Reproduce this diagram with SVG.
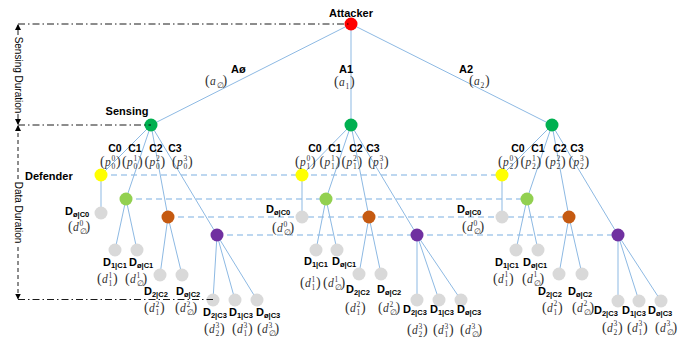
<svg xmlns="http://www.w3.org/2000/svg" width="699" height="344" viewBox="0 0 699 344">
<style>
.e{stroke:#8DB9E3;stroke-width:1;fill:none}
.h{stroke:#A8CAEB;stroke-width:1.6;stroke-dasharray:6 4;fill:none}
.dd{stroke:#000;stroke-width:0.9;stroke-dasharray:7 3 1.5 3;fill:none}
.ar{stroke:#000;stroke-width:0.9;fill:none}
.ard{stroke:#000;stroke-width:0.9;fill:none;stroke-dasharray:4 3}
.b{font-family:"Liberation Sans",Arial,sans-serif;font-weight:bold;font-size:11px;fill:#000}
.c{font-family:"Liberation Sans",Arial,sans-serif;font-weight:bold;font-size:10.5px;fill:#000;text-anchor:middle}
.sb{font-size:7.5px}
.r{font-family:"Liberation Sans",Arial,sans-serif;font-size:10px;fill:#000;text-anchor:middle}
.m{font-family:"Liberation Serif","Times New Roman",serif;font-size:11.5px;fill:#333}
.mp{font-size:14px}
.mi{font-style:italic}
.ms{font-size:7.5px}
.red{fill:#FF0000}.grn{fill:#00B050}.yel{fill:#FFFF00}.lg{fill:#92D050}.org{fill:#C55A11}.pur{fill:#7030A0}.gry{fill:#D9D9D9}
</style>
<defs>
<marker id="arr" viewBox="0 0 6 6" refX="5" refY="3" markerWidth="6" markerHeight="6" orient="auto" markerUnits="userSpaceOnUse"><path d="M0,0 L6,3 L0,6 z" fill="#000"/></marker>
</defs>
<rect width="699" height="344" fill="#fff"/>

<g id="connectors">
<line class="e" x1="351" y1="24" x2="151" y2="125"/>
<line class="e" x1="351" y1="24" x2="351" y2="125"/>
<line class="e" x1="351" y1="24" x2="552" y2="125"/>
<line class="h" x1="101" y1="175" x2="502" y2="175"/>
<line class="h" x1="126" y1="199" x2="527" y2="199"/>
<line class="h" x1="168" y1="217" x2="569" y2="217"/>
<line class="h" x1="217" y1="235" x2="618" y2="235"/>
<line class="e" x1="151" y1="125" x2="101" y2="175"/>
<line class="e" x1="151" y1="125" x2="126" y2="199"/>
<line class="e" x1="151" y1="125" x2="168" y2="217"/>
<line class="e" x1="151" y1="125" x2="217" y2="235"/>
<line class="e" x1="101" y1="175" x2="101" y2="213"/>
<line class="e" x1="126" y1="199" x2="115" y2="250"/>
<line class="e" x1="126" y1="199" x2="137" y2="250"/>
<line class="e" x1="168" y1="217" x2="160" y2="275"/>
<line class="e" x1="168" y1="217" x2="182" y2="275"/>
<line class="e" x1="217" y1="235" x2="213" y2="300"/>
<line class="e" x1="217" y1="235" x2="235" y2="300"/>
<line class="e" x1="217" y1="235" x2="257" y2="300"/>
<line class="e" x1="351" y1="125" x2="302" y2="175"/>
<line class="e" x1="351" y1="125" x2="326" y2="199"/>
<line class="e" x1="351" y1="125" x2="369" y2="217"/>
<line class="e" x1="351" y1="125" x2="417" y2="235"/>
<line class="e" x1="302" y1="175" x2="302" y2="217"/>
<line class="e" x1="326" y1="199" x2="316" y2="250"/>
<line class="e" x1="326" y1="199" x2="337" y2="250"/>
<line class="e" x1="369" y1="217" x2="359" y2="274"/>
<line class="e" x1="369" y1="217" x2="381" y2="274"/>
<line class="e" x1="417" y1="235" x2="417" y2="300"/>
<line class="e" x1="417" y1="235" x2="439" y2="300"/>
<line class="e" x1="417" y1="235" x2="461" y2="300"/>
<line class="e" x1="552" y1="125" x2="502" y2="175"/>
<line class="e" x1="552" y1="125" x2="527" y2="199"/>
<line class="e" x1="552" y1="125" x2="569" y2="217"/>
<line class="e" x1="552" y1="125" x2="618" y2="235"/>
<line class="e" x1="502" y1="175" x2="502" y2="217"/>
<line class="e" x1="527" y1="199" x2="516" y2="250"/>
<line class="e" x1="527" y1="199" x2="538" y2="250"/>
<line class="e" x1="569" y1="217" x2="559" y2="274"/>
<line class="e" x1="569" y1="217" x2="582" y2="274"/>
<line class="e" x1="618" y1="235" x2="618" y2="301"/>
<line class="e" x1="618" y1="235" x2="639" y2="301"/>
<line class="e" x1="618" y1="235" x2="661" y2="301"/>
</g>

<g id="attacker">
<circle class="red" cx="351" cy="24" r="6.5"/>
<text class="b" x="351" y="17" text-anchor="middle">Attacker</text>
<text class="b" x="231" y="72.5">Aø</text>
<text class="m"><tspan class="mp" x="205" y="85">(</tspan><tspan class="mi" x="210" y="85">a</tspan><tspan class="ms" x="216.5" y="88">∅</tspan><tspan class="mp" x="222.5" y="85">)</tspan></text>
<text class="b" x="346" y="72.5" text-anchor="middle">A1</text>
<text class="m"><tspan class="mp" x="334" y="86">(</tspan><tspan class="mi" x="339" y="86">a</tspan><tspan class="ms" x="345.5" y="89">1</tspan><tspan class="mp" x="350" y="86">)</tspan></text>
<text class="b" x="466" y="72.5" text-anchor="middle">A2</text>
<text class="m"><tspan class="mp" x="469" y="85">(</tspan><tspan class="mi" x="474" y="85">a</tspan><tspan class="ms" x="480.5" y="88">2</tspan><tspan class="mp" x="485" y="85">)</tspan></text>
</g>

<g id="sensing-0">
<circle class="grn" cx="151" cy="125" r="6.5"/>
<text class="b" x="127" y="115" text-anchor="middle">Sensing</text>
</g>
<g id="sensing-1"><circle class="grn" cx="351" cy="125" r="6.5"/></g>
<g id="sensing-2"><circle class="grn" cx="552" cy="125" r="6.5"/></g>

<text class="b" x="25" y="180">Defender</text>

<!-- Tree 0 C nodes -->
<g id="t0-c0"><circle class="yel" cx="101" cy="175" r="6.5"/><text class="c" x="115" y="152">C0</text>
<text class="m"><tspan class="mp" x="100" y="166">(</tspan><tspan class="mi" x="105" y="166">p</tspan><tspan class="ms" x="111.5" y="160.5">0</tspan><tspan class="ms" x="111.5" y="169">0</tspan><tspan class="mp" x="116" y="166">)</tspan></text></g>
<g id="t0-c1"><circle class="lg" cx="126" cy="199" r="6.5"/><text class="c" x="135" y="152">C1</text>
<text class="m"><tspan class="mp" x="122" y="166">(</tspan><tspan class="mi" x="127" y="166">p</tspan><tspan class="ms" x="133.5" y="160.5">1</tspan><tspan class="ms" x="133.5" y="169">0</tspan><tspan class="mp" x="138" y="166">)</tspan></text></g>
<g id="t0-c2"><circle class="org" cx="168" cy="217" r="6.5"/><text class="c" x="156" y="152">C2</text>
<text class="m"><tspan class="mp" x="144.5" y="166">(</tspan><tspan class="mi" x="149.5" y="166">p</tspan><tspan class="ms" x="156" y="160.5">2</tspan><tspan class="ms" x="156" y="169">0</tspan><tspan class="mp" x="160.5" y="166">)</tspan></text></g>
<g id="t0-c3"><circle class="pur" cx="217" cy="235" r="6.5"/><text class="c" x="175" y="152">C3</text>
<text class="m"><tspan class="mp" x="172" y="166">(</tspan><tspan class="mi" x="177" y="166">p</tspan><tspan class="ms" x="183.5" y="160.5">3</tspan><tspan class="ms" x="183.5" y="169">0</tspan><tspan class="mp" x="188" y="166">)</tspan></text></g>

<!-- Tree 0 leaves -->
<g id="t0-d-n-c0"><circle class="gry" cx="101" cy="213" r="6.5"/><text class="b" x="65" y="215">D<tspan class="sb" dy="2">ø|C0</tspan></text>
<text class="m"><tspan class="mp" x="68" y="231">(</tspan><tspan class="mi" x="73" y="231">d</tspan><tspan class="ms" x="79.5" y="225.5">0</tspan><tspan class="ms" x="79.5" y="234">∅</tspan><tspan class="mp" x="85.5" y="231">)</tspan></text></g>
<g id="t0-d-1-c1"><circle class="gry" cx="115" cy="250" r="6.5"/><text class="b" x="103" y="266">D<tspan class="sb" dy="2">1|C1</tspan></text>
<text class="m"><tspan class="mp" x="97" y="283">(</tspan><tspan class="mi" x="102" y="283">d</tspan><tspan class="ms" x="108.5" y="277.5">1</tspan><tspan class="ms" x="108.5" y="286">1</tspan><tspan class="mp" x="113" y="283">)</tspan></text></g>
<g id="t0-d-n-c1"><circle class="gry" cx="137" cy="250" r="6.5"/><text class="b" x="129" y="266">D<tspan class="sb" dy="2">ø|C1</tspan></text>
<text class="m"><tspan class="mp" x="125" y="283">(</tspan><tspan class="mi" x="130" y="283">d</tspan><tspan class="ms" x="136.5" y="277.5">1</tspan><tspan class="ms" x="136.5" y="286">∅</tspan><tspan class="mp" x="142.5" y="283">)</tspan></text></g>
<g id="t0-d-2-c2"><circle class="gry" cx="160" cy="275" r="6.5"/><text class="b" x="144" y="295">D<tspan class="sb" dy="2">2|C2</tspan></text>
<text class="m"><tspan class="mp" x="144" y="312">(</tspan><tspan class="mi" x="149" y="312">d</tspan><tspan class="ms" x="155.5" y="306.5">2</tspan><tspan class="ms" x="155.5" y="315">1</tspan><tspan class="mp" x="160" y="312">)</tspan></text></g>
<g id="t0-d-n-c2"><circle class="gry" cx="182" cy="275" r="6.5"/><text class="b" x="176" y="295">D<tspan class="sb" dy="2">ø|C2</tspan></text>
<text class="m"><tspan class="mp" x="175" y="312">(</tspan><tspan class="mi" x="180" y="312">d</tspan><tspan class="ms" x="186.5" y="306.5">2</tspan><tspan class="ms" x="186.5" y="315">∅</tspan><tspan class="mp" x="192.5" y="312">)</tspan></text></g>
<g id="t0-d-2-c3"><circle class="gry" cx="213" cy="300" r="6.5"/><text class="b" x="203" y="316">D<tspan class="sb" dy="2">2|C3</tspan></text>
<text class="m"><tspan class="mp" x="204" y="333">(</tspan><tspan class="mi" x="209" y="333">d</tspan><tspan class="ms" x="215.5" y="327.5">3</tspan><tspan class="ms" x="215.5" y="336">2</tspan><tspan class="mp" x="220" y="333">)</tspan></text></g>
<g id="t0-d-1-c3"><circle class="gry" cx="235" cy="300" r="6.5"/><text class="b" x="229" y="316">D<tspan class="sb" dy="2">1|C3</tspan></text>
<text class="m"><tspan class="mp" x="232" y="333">(</tspan><tspan class="mi" x="237" y="333">d</tspan><tspan class="ms" x="243.5" y="327.5">3</tspan><tspan class="ms" x="243.5" y="336">1</tspan><tspan class="mp" x="248" y="333">)</tspan></text></g>
<g id="t0-d-n-c3"><circle class="gry" cx="257" cy="300" r="6.5"/><text class="b" x="256" y="316">D<tspan class="sb" dy="2">ø|C3</tspan></text>
<text class="m"><tspan class="mp" x="257" y="333">(</tspan><tspan class="mi" x="262" y="333">d</tspan><tspan class="ms" x="268.5" y="327.5">3</tspan><tspan class="ms" x="268.5" y="336">∅</tspan><tspan class="mp" x="274.5" y="333">)</tspan></text></g>

<!-- Tree 1 C nodes -->
<g id="t1-c0"><circle class="yel" cx="302" cy="175" r="6.5"/><text class="c" x="315" y="152">C0</text>
<text class="m"><tspan class="mp" x="295" y="166">(</tspan><tspan class="mi" x="300" y="166">p</tspan><tspan class="ms" x="306.5" y="160.5">0</tspan><tspan class="ms" x="306.5" y="169">1</tspan><tspan class="mp" x="311" y="166">)</tspan></text></g>
<g id="t1-c1"><circle class="lg" cx="326" cy="199" r="6.5"/><text class="c" x="335" y="152">C1</text>
<text class="m"><tspan class="mp" x="319.5" y="166">(</tspan><tspan class="mi" x="324.5" y="166">p</tspan><tspan class="ms" x="331" y="160.5">1</tspan><tspan class="ms" x="331" y="169">1</tspan><tspan class="mp" x="335.5" y="166">)</tspan></text></g>
<g id="t1-c2"><circle class="org" cx="369" cy="217" r="6.5"/><text class="c" x="356" y="152">C2</text>
<text class="m"><tspan class="mp" x="341.5" y="166">(</tspan><tspan class="mi" x="346.5" y="166">p</tspan><tspan class="ms" x="353" y="160.5">2</tspan><tspan class="ms" x="353" y="169">1</tspan><tspan class="mp" x="357.5" y="166">)</tspan></text></g>
<g id="t1-c3"><circle class="pur" cx="417" cy="235" r="6.5"/><text class="c" x="373" y="152">C3</text>
<text class="m"><tspan class="mp" x="368" y="166">(</tspan><tspan class="mi" x="373" y="166">p</tspan><tspan class="ms" x="379.5" y="160.5">3</tspan><tspan class="ms" x="379.5" y="169">1</tspan><tspan class="mp" x="384" y="166">)</tspan></text></g>

<!-- Tree 1 leaves -->
<g id="t1-d-n-c0"><circle class="gry" cx="302" cy="217" r="6.5"/><text class="b" x="266" y="213">D<tspan class="sb" dy="2">ø|C0</tspan></text>
<text class="m"><tspan class="mp" x="272" y="232">(</tspan><tspan class="mi" x="277" y="232">d</tspan><tspan class="ms" x="283.5" y="226.5">0</tspan><tspan class="ms" x="283.5" y="235">∅</tspan><tspan class="mp" x="289.5" y="232">)</tspan></text></g>
<g id="t1-d-1-c1"><circle class="gry" cx="316" cy="250" r="6.5"/><text class="b" x="304" y="265">D<tspan class="sb" dy="2">1|C1</tspan></text>
<text class="m"><tspan class="mp" x="300" y="287">(</tspan><tspan class="mi" x="305" y="287">d</tspan><tspan class="ms" x="311.5" y="281.5">1</tspan><tspan class="ms" x="311.5" y="290">1</tspan><tspan class="mp" x="316" y="287">)</tspan></text></g>
<g id="t1-d-n-c1"><circle class="gry" cx="337" cy="250" r="6.5"/><text class="b" x="332" y="265">D<tspan class="sb" dy="2">ø|C1</tspan></text>
<text class="m"><tspan class="mp" x="323" y="287">(</tspan><tspan class="mi" x="328" y="287">d</tspan><tspan class="ms" x="334.5" y="281.5">1</tspan><tspan class="ms" x="334.5" y="290">∅</tspan><tspan class="mp" x="340.5" y="287">)</tspan></text></g>
<g id="t1-d-2-c2"><circle class="gry" cx="359" cy="274" r="6.5"/><text class="b" x="346" y="293">D<tspan class="sb" dy="2">2|C2</tspan></text>
<text class="m"><tspan class="mp" x="345" y="312">(</tspan><tspan class="mi" x="350" y="312">d</tspan><tspan class="ms" x="356.5" y="306.5">2</tspan><tspan class="ms" x="356.5" y="315">1</tspan><tspan class="mp" x="361" y="312">)</tspan></text></g>
<g id="t1-d-n-c2"><circle class="gry" cx="381" cy="274" r="6.5"/><text class="b" x="377" y="293">D<tspan class="sb" dy="2">ø|C2</tspan></text>
<text class="m"><tspan class="mp" x="378" y="312">(</tspan><tspan class="mi" x="383" y="312">d</tspan><tspan class="ms" x="389.5" y="306.5">2</tspan><tspan class="ms" x="389.5" y="315">∅</tspan><tspan class="mp" x="395.5" y="312">)</tspan></text></g>
<g id="t1-d-2-c3"><circle class="gry" cx="417" cy="300" r="6.5"/><text class="b" x="403" y="313">D<tspan class="sb" dy="2">2|C3</tspan></text>
<text class="m"><tspan class="mp" x="407" y="334">(</tspan><tspan class="mi" x="412" y="334">d</tspan><tspan class="ms" x="418.5" y="328.5">3</tspan><tspan class="ms" x="418.5" y="337">2</tspan><tspan class="mp" x="423" y="334">)</tspan></text></g>
<g id="t1-d-1-c3"><circle class="gry" cx="439" cy="300" r="6.5"/><text class="b" x="430" y="313">D<tspan class="sb" dy="2">1|C3</tspan></text>
<text class="m"><tspan class="mp" x="433" y="334">(</tspan><tspan class="mi" x="438" y="334">d</tspan><tspan class="ms" x="444.5" y="328.5">3</tspan><tspan class="ms" x="444.5" y="337">1</tspan><tspan class="mp" x="449" y="334">)</tspan></text></g>
<g id="t1-d-n-c3"><circle class="gry" cx="461" cy="300" r="6.5"/><text class="b" x="457" y="313">D<tspan class="sb" dy="2">ø|C3</tspan></text>
<text class="m"><tspan class="mp" x="460" y="334">(</tspan><tspan class="mi" x="465" y="334">d</tspan><tspan class="ms" x="471.5" y="328.5">3</tspan><tspan class="ms" x="471.5" y="337">∅</tspan><tspan class="mp" x="477.5" y="334">)</tspan></text></g>

<!-- Tree 2 C nodes -->
<g id="t2-c0"><circle class="yel" cx="502" cy="175" r="6.5"/><text class="c" x="518" y="152">C0</text>
<text class="m"><tspan class="mp" x="498" y="166">(</tspan><tspan class="mi" x="503" y="166">p</tspan><tspan class="ms" x="509.5" y="160.5">0</tspan><tspan class="ms" x="509.5" y="169">2</tspan><tspan class="mp" x="514" y="166">)</tspan></text></g>
<g id="t2-c1"><circle class="lg" cx="527" cy="199" r="6.5"/><text class="c" x="538" y="152">C1</text>
<text class="m"><tspan class="mp" x="520.5" y="166">(</tspan><tspan class="mi" x="525.5" y="166">p</tspan><tspan class="ms" x="532" y="160.5">1</tspan><tspan class="ms" x="532" y="169">2</tspan><tspan class="mp" x="536.5" y="166">)</tspan></text></g>
<g id="t2-c2"><circle class="org" cx="569" cy="217" r="6.5"/><text class="c" x="560" y="152">C2</text>
<text class="m"><tspan class="mp" x="545" y="166">(</tspan><tspan class="mi" x="550" y="166">p</tspan><tspan class="ms" x="556.5" y="160.5">2</tspan><tspan class="ms" x="556.5" y="169">2</tspan><tspan class="mp" x="561" y="166">)</tspan></text></g>
<g id="t2-c3"><circle class="pur" cx="618" cy="235" r="6.5"/><text class="c" x="577" y="152">C3</text>
<text class="m"><tspan class="mp" x="568.5" y="166">(</tspan><tspan class="mi" x="573.5" y="166">p</tspan><tspan class="ms" x="580" y="160.5">3</tspan><tspan class="ms" x="580" y="169">2</tspan><tspan class="mp" x="584.5" y="166">)</tspan></text></g>

<!-- Tree 2 leaves -->
<g id="t2-d-n-c0"><circle class="gry" cx="502" cy="217" r="6.5"/><text class="b" x="457" y="213">D<tspan class="sb" dy="2">ø|C0</tspan></text>
<text class="m"><tspan class="mp" x="462" y="231">(</tspan><tspan class="mi" x="467" y="231">d</tspan><tspan class="ms" x="473.5" y="225.5">0</tspan><tspan class="ms" x="473.5" y="234">∅</tspan><tspan class="mp" x="479.5" y="231">)</tspan></text></g>
<g id="t2-d-1-c1"><circle class="gry" cx="516" cy="250" r="6.5"/><text class="b" x="495" y="266">D<tspan class="sb" dy="2">1|C1</tspan></text>
<text class="m"><tspan class="mp" x="493" y="282.5">(</tspan><tspan class="mi" x="498" y="282.5">d</tspan><tspan class="ms" x="504.5" y="277">1</tspan><tspan class="ms" x="504.5" y="285.5">1</tspan><tspan class="mp" x="509" y="282.5">)</tspan></text></g>
<g id="t2-d-n-c1"><circle class="gry" cx="538" cy="250" r="6.5"/><text class="b" x="523" y="266">D<tspan class="sb" dy="2">ø|C1</tspan></text>
<text class="m"><tspan class="mp" x="522" y="282.5">(</tspan><tspan class="mi" x="527" y="282.5">d</tspan><tspan class="ms" x="533.5" y="277">1</tspan><tspan class="ms" x="533.5" y="285.5">∅</tspan><tspan class="mp" x="539.5" y="282.5">)</tspan></text></g>
<g id="t2-d-2-c2"><circle class="gry" cx="559" cy="274" r="6.5"/><text class="b" x="538" y="295">D<tspan class="sb" dy="2">2|C2</tspan></text>
<text class="m"><tspan class="mp" x="542" y="311.5">(</tspan><tspan class="mi" x="547" y="311.5">d</tspan><tspan class="ms" x="553.5" y="306">2</tspan><tspan class="ms" x="553.5" y="314.5">1</tspan><tspan class="mp" x="558" y="311.5">)</tspan></text></g>
<g id="t2-d-n-c2"><circle class="gry" cx="582" cy="274" r="6.5"/><text class="b" x="568" y="295">D<tspan class="sb" dy="2">ø|C2</tspan></text>
<text class="m"><tspan class="mp" x="572" y="311.5">(</tspan><tspan class="mi" x="577" y="311.5">d</tspan><tspan class="ms" x="583.5" y="306">2</tspan><tspan class="ms" x="583.5" y="314.5">∅</tspan><tspan class="mp" x="589.5" y="311.5">)</tspan></text></g>
<g id="t2-d-2-c3"><circle class="gry" cx="618" cy="301" r="6.5"/><text class="b" x="594" y="314">D<tspan class="sb" dy="2">2|C3</tspan></text>
<text class="m"><tspan class="mp" x="602" y="331.5">(</tspan><tspan class="mi" x="607" y="331.5">d</tspan><tspan class="ms" x="613.5" y="326">3</tspan><tspan class="ms" x="613.5" y="334.5">2</tspan><tspan class="mp" x="618" y="331.5">)</tspan></text></g>
<g id="t2-d-1-c3"><circle class="gry" cx="639" cy="301" r="6.5"/><text class="b" x="622" y="314">D<tspan class="sb" dy="2">1|C3</tspan></text>
<text class="m"><tspan class="mp" x="627" y="331.5">(</tspan><tspan class="mi" x="632" y="331.5">d</tspan><tspan class="ms" x="638.5" y="326">3</tspan><tspan class="ms" x="638.5" y="334.5">1</tspan><tspan class="mp" x="643" y="331.5">)</tspan></text></g>
<g id="t2-d-n-c3"><circle class="gry" cx="661" cy="301" r="6.5"/><text class="b" x="648" y="314">D<tspan class="sb" dy="2">ø|C3</tspan></text>
<text class="m"><tspan class="mp" x="655" y="331.5">(</tspan><tspan class="mi" x="660" y="331.5">d</tspan><tspan class="ms" x="666.5" y="326">3</tspan><tspan class="ms" x="666.5" y="334.5">∅</tspan><tspan class="mp" x="672.5" y="331.5">)</tspan></text></g>

<g id="durations">
<line class="dd" x1="18" y1="24" x2="351" y2="24"/>
<line class="dd" x1="18" y1="125" x2="151" y2="125"/>
<line class="dd" x1="18" y1="299.5" x2="213" y2="299.5"/>
<line class="ar" x1="18" y1="35" x2="18" y2="25" marker-end="url(#arr)"/>
<line class="ar" x1="18" y1="114" x2="18" y2="124" marker-end="url(#arr)"/>
<text class="r" transform="translate(14.5,75) rotate(90)">Sensing Duration</text>
<line class="ard" x1="18" y1="179" x2="18" y2="126" marker-end="url(#arr)"/>
<line class="ard" x1="18" y1="247" x2="18" y2="298.5" marker-end="url(#arr)"/>
<text class="r" transform="translate(14.5,212.5) rotate(90)">Data Duration</text>
</g>
</svg>
